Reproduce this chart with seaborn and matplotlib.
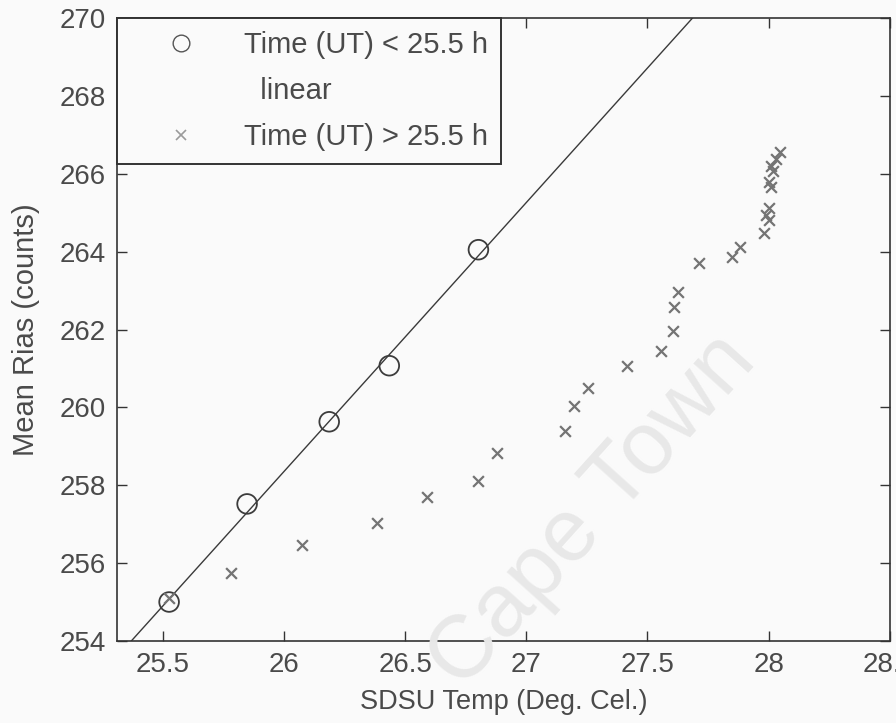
import numpy as np
import pandas as pd
import matplotlib
matplotlib.use("Agg")
import matplotlib.pyplot as plt
from matplotlib.lines import Line2D
import seaborn as sns

# Early-run samples (Time UT < 25.5 h)
early_temp = [25.525, 25.847, 26.186, 26.434, 26.802]
early_bias = [255.00, 257.52, 259.63, 261.07, 264.05]

# Late-run samples (Time UT > 25.5 h)
late_temp = [25.525, 25.781, 26.074, 26.384, 26.590, 26.800, 26.880,
             27.161, 27.198, 27.256, 27.417, 27.554, 27.607, 27.610,
             27.624, 27.711, 27.847, 27.880, 27.980, 28.000, 27.990,
             28.000, 28.010, 28.000, 28.020, 28.010, 28.030, 28.045]
late_bias = [255.10, 255.75, 256.47, 257.03, 257.70, 258.11, 258.83,
             259.40, 260.04, 260.50, 261.07, 261.45, 261.97, 262.59,
             262.97, 263.72, 263.85, 264.13, 264.49, 264.82, 264.93,
             265.13, 265.67, 265.80, 266.06, 266.19, 266.37, 266.55]

x_ticks = [25.5, 26.0, 26.5, 27.0, 27.5, 28.0, 28.5]
x_ticklabels = ["25.5", "26", "26.5", "27", "27.5", "28", "28.5"]
y_ticks = [254, 256, 258, 260, 262, 264, 266, 268, 270]

sns.set_theme(style="white")
plt.rcParams["font.family"] = ["Liberation Sans", "DejaVu Sans"]

TXT = "#4a4a4a"
EDGE = "#333333"

fig = plt.figure(figsize=(8.96, 7.23), dpi=100)
fig.patch.set_facecolor("#fafafa")
ax = fig.add_axes([0.1306, 0.1135, 0.8624, 0.8615])
ax.set_facecolor("none")

early = pd.DataFrame({"temp": early_temp, "bias": early_bias})
late = pd.DataFrame({"temp": late_temp, "bias": late_bias})

# least-squares line through the early samples
slope, intercept = np.polyfit(early["temp"], early["bias"], 1)
xlim = (25.31, 28.5)
fit = pd.DataFrame({"temp": np.linspace(xlim[0], xlim[1], 50)})
fit["bias"] = slope * fit["temp"] + intercept

sns.scatterplot(data=early, x="temp", y="bias", ax=ax, marker="o", s=200,
                facecolor="none", edgecolor="#3c3c3c", linewidth=1.3,
                zorder=3)
sns.lineplot(data=fit, x="temp", y="bias", ax=ax, color="#3a3a3a",
             linewidth=1.0, zorder=2)
sns.scatterplot(data=late, x="temp", y="bias", ax=ax, marker="x", s=60,
                color="#747474", linewidth=1.6, zorder=3)

ax.set_xlim(*xlim)
ax.set_ylim(254, 270)
ax.set_xticks(x_ticks)
ax.set_xticklabels(x_ticklabels)
ax.set_yticks(y_ticks)

ax.tick_params(axis="both", which="both", direction="in", length=7,
               width=1.0, colors=EDGE, labelcolor=TXT, labelsize=20,
               top=True, right=True, bottom=True, left=True)
ax.tick_params(axis="x", pad=8)
ax.tick_params(axis="y", pad=8)
for sp in ax.spines.values():
    sp.set_color(EDGE)
    sp.set_linewidth(1.2)

ax.set_xlabel("SDSU Temp (Deg. Cel.)", fontsize=19.5, color=TXT,
              labelpad=8)
ax.set_ylabel("Mean Rias (counts)", fontsize=21, color=TXT,
              labelpad=14)

handles = [
    Line2D([], [], marker="o", linestyle="none", markersize=12,
           markerfacecolor="none", markeredgecolor="#555555",
           markeredgewidth=1.0),
    Line2D([], [], linestyle="none", color="none"),
    Line2D([], [], marker="x", linestyle="none", markersize=7,
           color="#9a9a9a", markeredgewidth=1.2),
]
labels = ["Time (UT) < 25.5 h", "  linear", "Time (UT) > 25.5 h"]
leg = ax.legend(handles, labels, loc="upper left", bbox_to_anchor=(0, 1),
                borderaxespad=0, fontsize=21, frameon=True, fancybox=False,
                framealpha=1, edgecolor=EDGE, handlelength=3.5,
                handletextpad=0.4, borderpad=0.45, labelspacing=0.62,
                labelcolor=TXT)
leg.get_frame().set_linewidth(1.4)
leg.get_frame().set_facecolor("#fafafa")

fig.text(0.662, 0.292, "Cape Town", rotation=48, fontsize=64,
         color="#e8e8e8", ha="center", va="center", zorder=0)

fig.savefig("out.png", dpi=100)
